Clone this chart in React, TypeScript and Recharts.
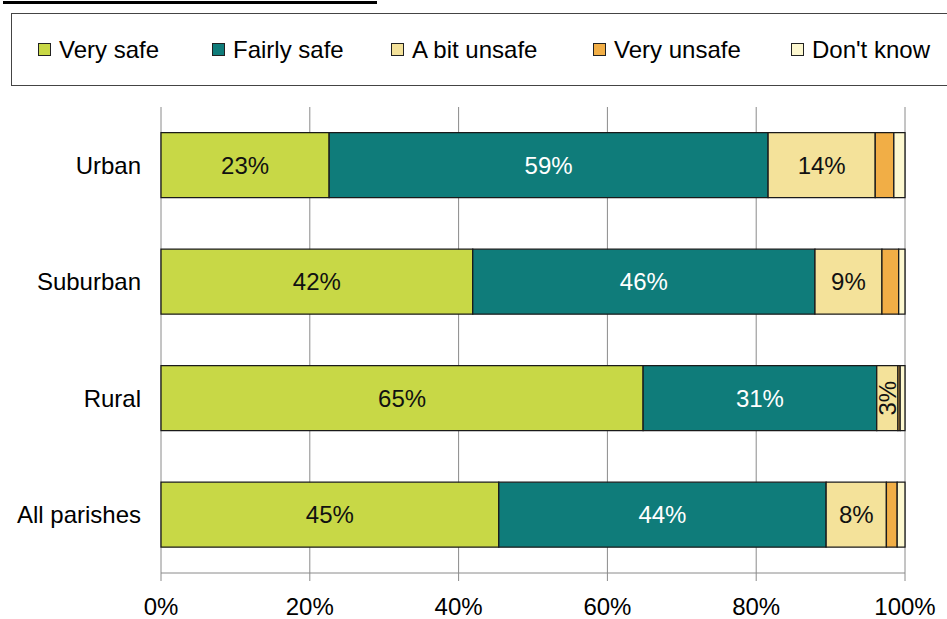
import React from "react";
import { BarChart, Bar, XAxis, YAxis, CartesianGrid, Legend, LabelList } from "recharts";

const categories = ["Urban", "Suburban", "Rural", "All parishes"];
const verySafe = [22.6, 41.9, 64.8, 45.4];
const fairlySafe = [59.0, 46.0, 31.4, 44.0];
const bitUnsafe = [14.4, 9.0, 2.85, 8.1];
const veryUnsafe = [2.5, 2.25, 0.3, 1.45];
const dontKnow = [1.5, 0.85, 0.65, 1.05];
const xTicks = [0, 20, 40, 60, 80, 100];

const seriesNames = ["Very safe", "Fairly safe", "A bit unsafe", "Very unsafe", "Don't know"];
const seriesColors = ["#C8D846", "#0F7C7A", "#F4E29A", "#F1AE46", "#FDF8D0"];

const data = categories.map((name, i) => ({
  name,
  s0: verySafe[i],
  s1: fairlySafe[i],
  s2: bitUnsafe[i],
  s3: veryUnsafe[i],
  s4: dontKnow[i],
}));

const FONT = "'Liberation Sans', Arial, sans-serif";

const makeLabel = (fill: string) => (props: any) => {
  const { x, y, width, height, value } = props;
  if (value == null) return null;
  const cx = Number(x) + Number(width) / 2;
  const cy = Number(y) + Number(height) / 2;
  const txt = `${Math.round(Number(value))}%`;
  const rotate = Number(width) < 40;
  return (
    <text
      x={cx}
      y={cy}
      textAnchor="middle"
      dominantBaseline="central"
      fontSize={24}
      fontFamily={FONT}
      fill={fill}
      transform={rotate ? `rotate(-90 ${cx} ${cy})` : undefined}
    >
      {txt}
    </text>
  );
};

const legendLefts = [37, 211, 390, 592, 790];

const renderLegend = () => {
  return (
    <div
      style={{
        position: "relative",
        width: 960,
        height: 73,
        border: "1px solid #444",
        boxSizing: "border-box",
        fontFamily: FONT,
        fontSize: 24,
        color: "#000",
        background: "#fff",
      }}
    >
      {seriesNames.map((name, i) => (
        <div
          key={name}
          style={{
            position: "absolute",
            left: legendLefts[i] - 11,
            top: 0,
            height: 71,
            display: "flex",
            alignItems: "center",
            whiteSpace: "nowrap",
          }}
        >
          <span
            style={{
              display: "inline-block",
              width: 11,
              height: 11,
              background: seriesColors[i],
              border: "1.5px solid #222",
              marginRight: 8,
            }}
          />
          <span>{name}</span>
        </div>
      ))}
    </div>
  );
};

export default function App() {
  return (
    <div
      style={{
        position: "absolute",
        left: 0,
        top: 0,
        width: 947,
        height: 619,
        background: "#fff",
        overflow: "hidden",
        fontFamily: FONT,
      }}
    >
      <div
        style={{
          position: "absolute",
          left: 3,
          top: 1,
          width: 374,
          height: 3,
          background: "#000",
        }}
      />
      <BarChart
        width={947}
        height={619}
        data={data}
        layout="vertical"
        margin={{ top: 107, right: 42, left: 0, bottom: 0 }}
        barCategoryGap="22%"
      >
        <CartesianGrid horizontal={false} vertical stroke="#8a8a8a" strokeWidth={1} />
        <XAxis
          type="number"
          domain={[0, 100]}
          ticks={xTicks}
          tickFormatter={(v: number) => `${v}%`}
          height={46}
          axisLine={{ stroke: "#8a8a8a" }}
          tickLine={{ stroke: "#8a8a8a" }}
          tickSize={8}
          tickMargin={17}
          tick={{ fontSize: 24, fill: "#000", fontFamily: FONT }}
          interval={0}
        />
        <YAxis
          type="category"
          dataKey="name"
          width={161}
          axisLine={false}
          tickLine={false}
          tickSize={0}
          tickMargin={20}
          tick={{ fontSize: 24, fill: "#000", fontFamily: FONT }}
        />
        <Legend
          verticalAlign="middle"
          align="center"
          layout="horizontal"
          content={renderLegend}
          wrapperStyle={{ position: "absolute", top: 13, left: 11, width: 960, height: 73 }}
        />
        <Bar dataKey="s0" name={seriesNames[0]} stackId="a" fill={seriesColors[0]} stroke="#1a1a1a" strokeWidth={1.3} isAnimationActive={false}>
          <LabelList dataKey="s0" content={makeLabel("#111")} />
        </Bar>
        <Bar dataKey="s1" name={seriesNames[1]} stackId="a" fill={seriesColors[1]} stroke="#1a1a1a" strokeWidth={1.3} isAnimationActive={false}>
          <LabelList dataKey="s1" content={makeLabel("#ffffff")} />
        </Bar>
        <Bar dataKey="s2" name={seriesNames[2]} stackId="a" fill={seriesColors[2]} stroke="#1a1a1a" strokeWidth={1.3} isAnimationActive={false}>
          <LabelList dataKey="s2" content={makeLabel("#111")} />
        </Bar>
        <Bar dataKey="s3" name={seriesNames[3]} stackId="a" fill={seriesColors[3]} stroke="#1a1a1a" strokeWidth={1.3} isAnimationActive={false} />
        <Bar dataKey="s4" name={seriesNames[4]} stackId="a" fill={seriesColors[4]} stroke="#1a1a1a" strokeWidth={1.3} isAnimationActive={false} />
      </BarChart>
    </div>
  );
}
